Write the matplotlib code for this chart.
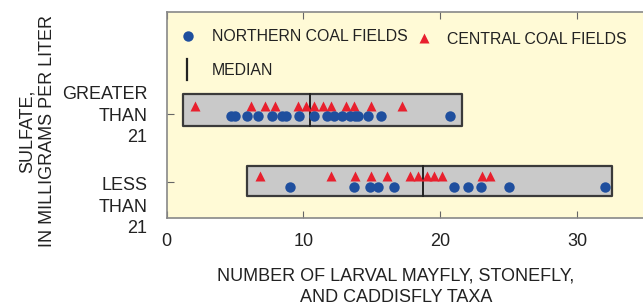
import numpy as np
import matplotlib
matplotlib.use("Agg")
import matplotlib.pyplot as plt

plt.rcParams['font.family'] = ['Liberation Sans', 'DejaVu Sans']

# sulfate groups: 2 = greater than 21, 1 = less than 21
group_labels = ['LESS\nTHAN\n21', 'GREATER\nTHAN\n21']

# greater than 21 mg/L
north_hi = [4.7, 5.0, 5.9, 6.7, 7.7, 8.4, 8.7, 9.7, 10.8, 11.7, 12.2, 12.8,
            13.4, 13.8, 14.0, 14.7, 15.7, 20.7]
central_hi = [2.1, 6.2, 7.2, 7.9, 9.6, 10.2, 10.8, 11.4, 12.0, 13.1, 13.7,
              14.9, 17.2]
# less than 21 mg/L
north_lo = [9.0, 13.7, 14.85, 15.45, 16.6, 21.0, 22.0, 23.0, 25.0, 32.0]
central_lo = [6.8, 12.0, 13.75, 14.9, 16.1, 17.8, 18.4, 19.0, 19.55, 20.15,
              23.05, 23.65]

box_lo = [1.2, 5.85]
box_hi = [21.6, 32.5]
medians = [10.5, 18.7]

blue = '#1f4f9e'
red = '#e8202e'
bg = '#fffad6'
txt = '#222222'

fig = plt.figure(figsize=(6.43, 3.08), dpi=100)
ax = fig.add_axes([0.259, 0.292, 0.741, 0.669])
ax.set_facecolor(bg)

rows = [2, 1]
north = [north_hi, north_lo]
central = [central_hi, central_lo]
box_half = [(0.29, 0.18), (0.235, 0.21)]  # top, bottom offsets
for i, r in enumerate(rows):
    top, bot = box_half[i]
    ax.fill_between([box_lo[i], box_hi[i]], r - bot, r + top,
                    facecolor='#c9c9c9', edgecolor='#3a3a3a', linewidth=1.6, zorder=1)
    ax.plot([medians[i], medians[i]], [r - bot, r + top], color=txt, lw=1.4, zorder=2)
    ax.plot(central[i], [r + 0.12 - 0.03 * i] * len(central[i]), '^', color=red,
            ms=7, mec='none', zorder=3)
    ax.plot(north[i], [r - 0.03 - 0.05 * i] * len(north[i]), 'o', color=blue,
            ms=7.5, mec='none', zorder=3)

ax.set_xlim(0, 34.8)
ax.set_ylim(0.47, 3.5)
ax.set_xticks([0, 10, 20, 30])
ax.set_yticks([1, 2])
ax.set_yticklabels([])
ax.tick_params(axis='both', direction='in', length=5, color='#666666',
               labelsize=13, pad=11)
ax.tick_params(axis='x', top=True, labelcolor=txt)
ax.tick_params(axis='y', left=True)
for s in ['left', 'top', 'bottom']:
    ax.spines[s].set_color('#888888')
    ax.spines[s].set_linewidth(1.2)
ax.spines['right'].set_visible(False)

# row labels
tr = matplotlib.transforms.blended_transform_factory(ax.transAxes, ax.transData)
ax.text(-0.04, 1.97, group_labels[1], transform=tr, ha='right', va='center',
        fontsize=13, color=txt, linespacing=1.34)
ax.text(-0.04, 0.63, group_labels[0], transform=tr, ha='right', va='center',
        fontsize=13, color=txt, linespacing=1.34)

fig.text(0.058, 0.575, 'SULFATE,\nIN MILLIGRAMS PER LITER', rotation=90,
         ha='center', va='center', fontsize=13, color=txt,
         linespacing=1.2)
fig.text(0.616, 0.069, 'NUMBER OF LARVAL MAYFLY, STONEFLY,\nAND CADDISFLY TAXA',
         ha='center', va='center', fontsize=13, color=txt,
         linespacing=1.42)

# legend
ax.plot([0.045], [0.883], 'o', color=blue, ms=7.5, mec='none', transform=ax.transAxes)
ax.text(0.0955, 0.879, 'NORTHERN COAL FIELDS', transform=ax.transAxes,
        va='center', fontsize=11.4, color=txt)
ax.plot([0.540], [0.876], '^', color=red, ms=7, mec='none', transform=ax.transAxes)
ax.text(0.589, 0.866, 'CENTRAL COAL FIELDS', transform=ax.transAxes,
        va='center', fontsize=11.4, color=txt)
ax.plot([0.043, 0.043], [0.67, 0.772], color=txt, lw=1.6, transform=ax.transAxes)
ax.text(0.0955, 0.718, 'MEDIAN', transform=ax.transAxes,
        va='center', fontsize=11.4, color=txt)

fig.savefig('out.png', dpi=100, facecolor='white')
